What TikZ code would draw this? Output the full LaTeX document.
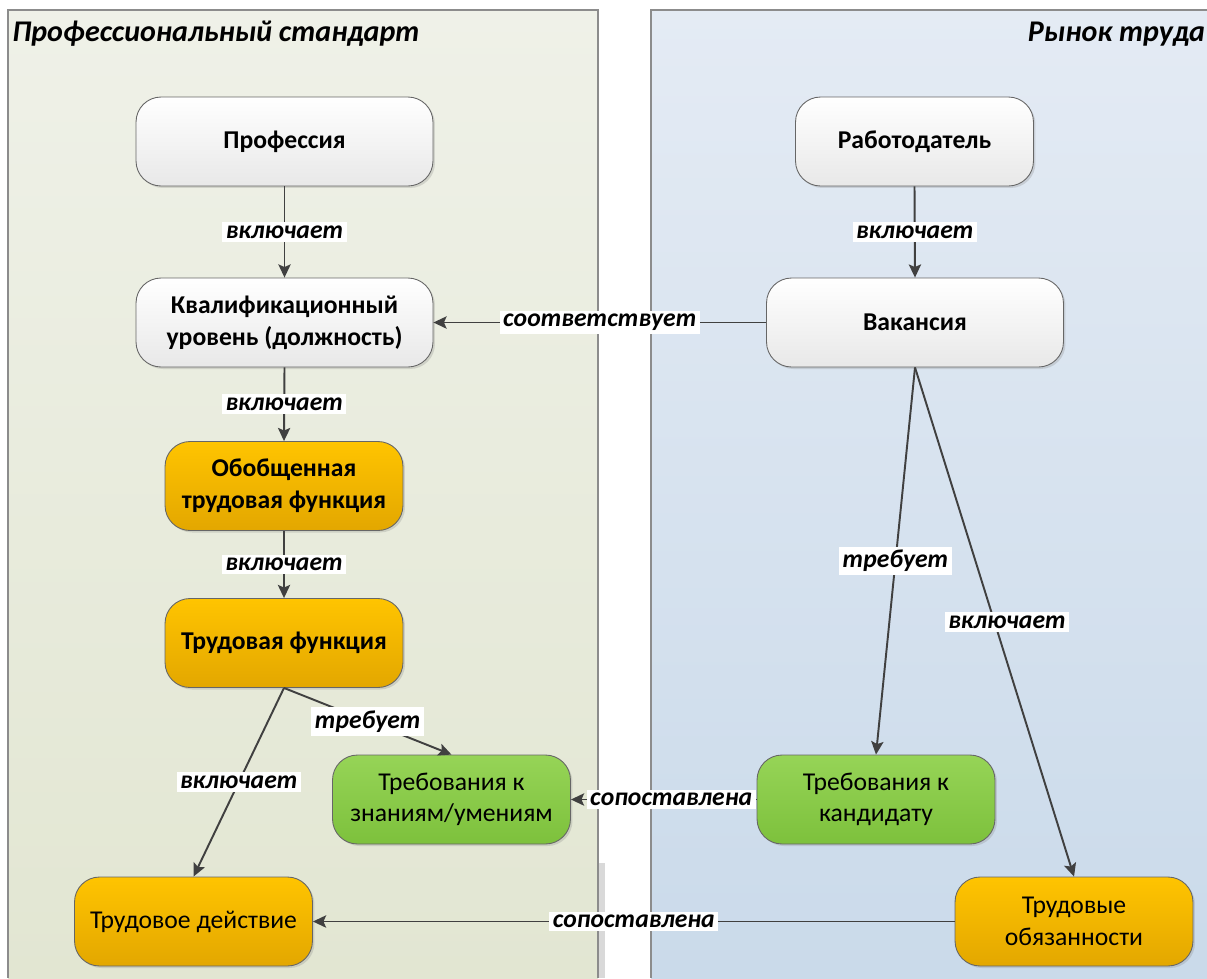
\documentclass[tikz,border=0pt]{standalone}
\usepackage{fontspec}
\setmainfont{Carlito}
\usetikzlibrary{arrows.meta,shadows}
\definecolor{edgec}{HTML}{404040}
\definecolor{lpTop}{HTML}{EFF1E8}
\definecolor{lpBot}{HTML}{E2E6D2}
\definecolor{rpTop}{HTML}{E4EBF4}
\definecolor{rpBot}{HTML}{CADAEA}
\definecolor{orTop}{HTML}{FFC400}
\definecolor{orBot}{HTML}{E3A700}
\definecolor{grTop}{HTML}{96D457}
\definecolor{grBot}{HTML}{7DC13C}
\tikzset{
  x=0.02cm, y=-0.02cm,
  box/.style={draw=black!60, line width=0.5pt, rounded corners=0.5cm, minimum width=5.94cm, minimum height=1.78cm, align=center, font=\fontsize{14.6}{18}\selectfont\bfseries, drop shadow={opacity=0.25, shadow xshift=0.04cm, shadow yshift=-0.04cm}},
  whitebox/.style={box, top color=white, bottom color=black!9},
  narrow/.style={minimum width=4.76cm},
  orbox/.style={box, narrow, top color=orTop, bottom color=orBot},
  grbox/.style={box, narrow, top color=grTop, bottom color=grBot},
  plain/.style={font=\fontsize{14.6}{18}\selectfont},
  conn/.style={draw=edgec, line width=1.1pt, -{Stealth[length=7.5pt,width=7pt,inset=1.5pt]}},
  lbl/.style={fill=white, inner sep=2pt, font=\fontsize{14.6}{16}\selectfont\bfseries\itshape},
  ttl/.style={font=\fontsize{17.1}{20}\selectfont\bfseries\itshape}
}
\begin{document}
\begin{tikzpicture}
\useasboundingbox (0,0) rectangle (1207,978);
% panels
\fill[black!15] (598,863) rectangle (605,978);
\shade[top color=lpTop, bottom color=lpBot] (8,10) rectangle (598,978);
\draw[black!45, line width=0.6pt] (8,978) -- (8,10) -- (598,10) -- (598,978);
\shade[top color=rpTop, bottom color=rpBot] (651,10) rectangle (1207,978);
\draw[black!45, line width=0.6pt] (651,978) -- (651,10) -- (1207,10);
\node[ttl, anchor=west, inner sep=0pt] (t1) at (12,34) {Профессиональный стандарт};
\node[ttl, anchor=east, inner sep=1pt] (t2) at (1207,34) {Рынок труда};
% nodes
\node[whitebox] (prof) at (284.5,141.5) {Профессия};
\node[whitebox] (kval) at (284.5,322.5) {Квалификационный\\уровень (должность)};
\node[orbox] (otf) at (284,486) {Обобщенная\\трудовая функция};
\node[orbox] (tf) at (284,643) {Трудовая функция};
\node[grbox, plain] (tz) at (451.5,799.5) {Требования к\\знаниям/умениям};
\node[orbox, plain] (td) at (193.5,921.5) {Трудовое действие};
\node[whitebox, narrow] (rab) at (914.5,141.5) {Работодатель};
\node[whitebox] (vak) at (915,322.5) {Вакансия};
\node[grbox, plain] (tk) at (876,799.5) {Требования к\\кандидату};
\node[orbox, plain] (to) at (1074,921.5) {Трудовые\\обязанности};
% connectors
\draw[conn] (prof.south) -- node[lbl] {включает} (kval.north);
\draw[conn] (kval.south) -- node[lbl] {включает} (otf.north);
\draw[conn] (otf.south) -- node[lbl] {включает} (tf.north);
\draw[conn] (tf.south) -- node[lbl] {требует} (tz.north);
\draw[conn] (tf.south) -- node[lbl] {включает} (td.north);
\draw[conn] (rab.south) -- node[lbl] {включает} (vak.north);
\draw[conn] (vak.west) -- node[lbl] {соответствует} (kval.east);
\draw[conn] (vak.south) -- node[lbl] {требует} (tk.north);
\draw[conn] (vak.south) -- node[lbl, xshift=0.25cm] {включает} (to.north);
\draw[conn] (tk.west) -- node[lbl, pos=0.46] {сопоставлена} (tz.east);
\draw[conn] (to.west) -- node[lbl] {сопоставлена} (td.east);
\end{tikzpicture}
\end{document}
